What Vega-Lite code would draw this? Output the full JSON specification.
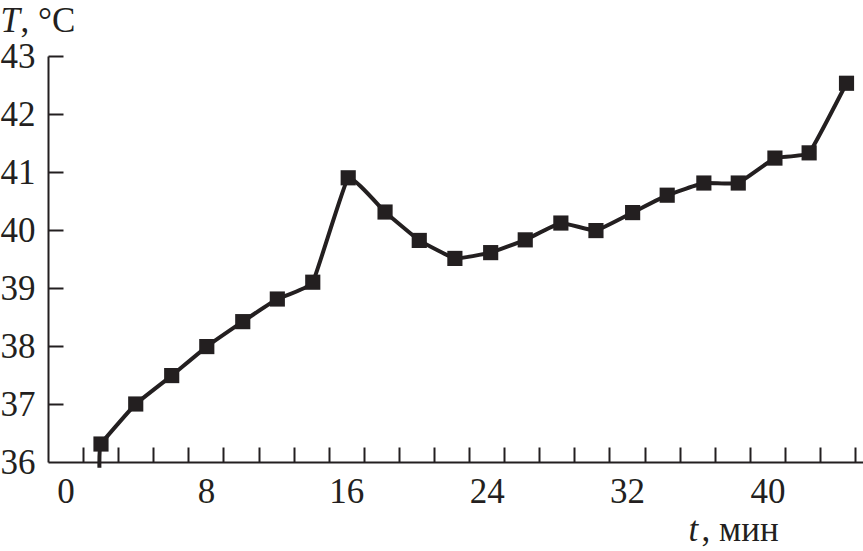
{
  "$schema": "https://vega.github.io/schema/vega-lite/v6.json",
  "width": 815,
  "height": 406,
  "autosize": {"type": "none"},
  "padding": {"left": 48, "top": 56, "right": 0, "bottom": 89},
  "background": "white",
  "config": {
    "view": {"stroke": null},
    "axis": {
      "labelFont": "Liberation Serif",
      "labelFontSize": 35,
      "labelColor": "#231f20",
      "titleFont": "Liberation Serif",
      "titleFontSize": 35,
      "titleFontWeight": "normal",
      "titleColor": "#231f20",
      "domainColor": "#231f20",
      "domainWidth": 2,
      "tickColor": "#231f20",
      "tickWidth": 2,
      "grid": false
    }
  },
  "datasets": {
    "curve": [
      {"t": 1.93, "T": 35.9},
      {"t": 2.02, "T": 36.31},
      {"t": 4.0, "T": 37.0},
      {"t": 6.05, "T": 37.49},
      {"t": 8.05, "T": 37.99},
      {"t": 10.1, "T": 38.42},
      {"t": 12.07, "T": 38.81},
      {"t": 14.09, "T": 39.1},
      {"t": 16.11, "T": 40.9},
      {"t": 18.21, "T": 40.31},
      {"t": 20.16, "T": 39.82},
      {"t": 22.19, "T": 39.51},
      {"t": 24.23, "T": 39.61},
      {"t": 26.2, "T": 39.83},
      {"t": 28.23, "T": 40.12},
      {"t": 30.23, "T": 39.99},
      {"t": 32.32, "T": 40.3},
      {"t": 34.29, "T": 40.6},
      {"t": 36.38, "T": 40.81},
      {"t": 38.34, "T": 40.81},
      {"t": 40.43, "T": 41.24},
      {"t": 42.38, "T": 41.33},
      {"t": 44.51, "T": 42.53}
    ],
    "points": [
      {"t": 2.02, "T": 36.31},
      {"t": 4.0, "T": 37.0},
      {"t": 6.05, "T": 37.49},
      {"t": 8.05, "T": 37.99},
      {"t": 10.1, "T": 38.42},
      {"t": 12.07, "T": 38.81},
      {"t": 14.09, "T": 39.1},
      {"t": 16.11, "T": 40.9},
      {"t": 18.21, "T": 40.31},
      {"t": 20.16, "T": 39.82},
      {"t": 22.19, "T": 39.51},
      {"t": 24.23, "T": 39.61},
      {"t": 26.2, "T": 39.83},
      {"t": 28.23, "T": 40.12},
      {"t": 30.23, "T": 39.99},
      {"t": 32.32, "T": 40.3},
      {"t": 34.29, "T": 40.6},
      {"t": 36.38, "T": 40.81},
      {"t": 38.34, "T": 40.81},
      {"t": 40.43, "T": 41.24},
      {"t": 42.38, "T": 41.33},
      {"t": 44.51, "T": 42.53}
    ]
  },
  "layer": [
    {
      "data": {"name": "curve"},
      "mark": {"type": "line", "interpolate": "cardinal", "tension": 0.7, "color": "#231f20", "strokeWidth": 4},
      "encoding": {
        "x": {
          "field": "t", "type": "quantitative",
          "scale": {"domain": [-1, 45.45], "nice": false, "zero": false},
          "axis": {
            "orient": "bottom",
            "values": [1, 3, 5, 7, 9, 11, 13, 15, 17, 19, 21, 23, 25, 27, 29, 31, 33, 35, 37, 39, 41, 43, 45],
            "offset": -15,
            "tickSize": 15,
            "domain": false,
            "labels": false,
            "title": "t",
            "titleFontStyle": "italic",
            "titleAlign": "left",
            "titleBaseline": "alphabetic",
            "titleX": 640,
            "titleY": 93
          }
        },
        "y": {
          "field": "T", "type": "quantitative",
          "scale": {"domain": [36, 43], "nice": false, "zero": false},
          "axis": {
            "orient": "left",
            "values": [37, 38, 39, 40, 41, 42, 43],
            "offset": -15,
            "tickSize": 15,
            "domain": false,
            "labels": false,
            "title": "T",
            "titleFontStyle": "italic",
            "titleAngle": 0,
            "titleAlign": "left",
            "titleBaseline": "alphabetic",
            "titleX": -63,
            "titleY": -25
          }
        }
      }
    },
    {
      "data": {"name": "points"},
      "mark": {"type": "point", "shape": "square", "filled": true, "size": 230, "color": "#231f20", "opacity": 1},
      "encoding": {
        "x": {
          "field": "t", "type": "quantitative",
          "scale": {"domain": [-1, 45.45], "nice": false, "zero": false},
          "axis": {
            "orient": "bottom",
            "values": [0, 8, 16, 24, 32, 40],
            "ticks": false,
            "domain": true,
            "labelPadding": 12,
            "labelOverlap": false,
            "labelFlush": false,
            "title": ", мин",
            "titleAlign": "left",
            "titleBaseline": "alphabetic",
            "titleX": 653,
            "titleY": 78
          }
        },
        "y": {
          "field": "T", "type": "quantitative",
          "scale": {"domain": [36, 43], "nice": false, "zero": false},
          "axis": {
            "orient": "left",
            "values": [36, 37, 38, 39, 40, 41, 42, 43],
            "ticks": false,
            "domain": true,
            "labelPadding": 13,
            "labelOverlap": false,
            "labelFlush": false,
            "title": ", °C",
            "titleAngle": 0,
            "titleAlign": "left",
            "titleBaseline": "alphabetic",
            "titleX": -28,
            "titleY": -25
          }
        }
      }
    }
  ],
  "resolve": {"axis": {"x": "independent", "y": "independent"}}
}
